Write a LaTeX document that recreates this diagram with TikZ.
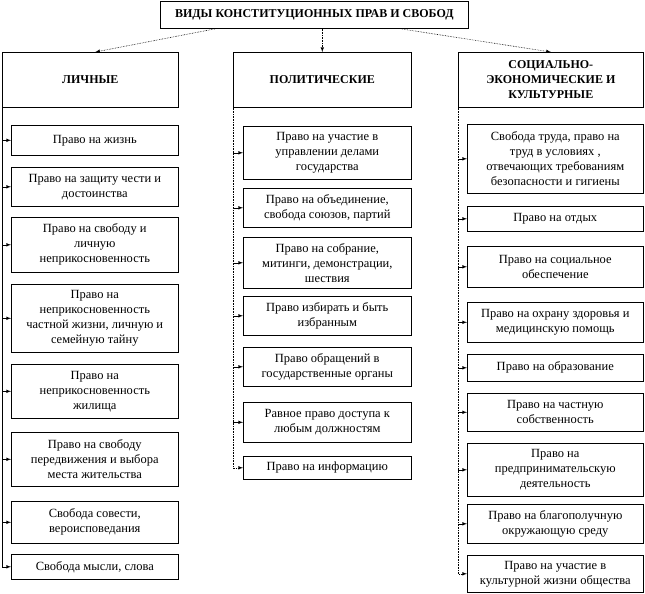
\documentclass[tikz,border=0pt]{standalone}
\usepackage{fontspec}
\setmainfont{Liberation Serif}
\usetikzlibrary{arrows}

\begin{document}
\begin{tikzpicture}[x=1pt, y=-1pt, >=latex,
        box/.style={draw, rectangle, line width=0.6pt, align=center, inner sep=1pt, anchor=north west, font=\fontsize{12.5}{15}\selectfont},
        head/.style={box, minimum height=55pt, font=\fontsize{12}{15}\selectfont\bfseries},
        lbox/.style={box, minimum width=167pt},
        pbox/.style={box, minimum width=168pt},
        rbox/.style={box, minimum width=176pt},
        link/.style={->, line width=0.6pt}]
    \useasboundingbox (0,0) rectangle (645,594);

    \node[head, minimum width=308pt, minimum height=27pt] (title) at (160,1) {ВИДЫ КОНСТИТУЦИОННЫХ ПРАВ И СВОБОД};
    \node[head, minimum width=176pt] (lich) at (2,52) {ЛИЧНЫЕ};
    \node[head, minimum width=178pt] (polit) at (233,52) {ПОЛИТИЧЕСКИЕ};
    \node[head, minimum width=185pt] (soc) at (458,52) {СОЦИАЛЬНО-\\ЭКОНОМИЧЕСКИЕ И\\КУЛЬТУРНЫЕ};

    % личные
    \node[lbox, minimum height=30pt] (l1) at (11,125) {Право на жизнь};
    \node[lbox, minimum height=39pt] (l2) at (11,167) {Право на защиту чести и\\достоинства};
    \node[lbox, minimum height=55pt] (l3) at (11,217) {Право на свободу и\\личную\\неприкосновенность};
    \node[lbox, minimum height=68pt] (l4) at (11,284) {Право на\\неприкосновенность\\частной жизни, личную и\\семейную тайну};
    \node[lbox, minimum height=54pt] (l5) at (11,364) {Право на\\неприкосновенность\\жилища};
    \node[lbox, minimum height=54pt] (l6) at (11,432) {Право на свободу\\передвижения и выбора\\места жительства};
    \node[lbox, minimum height=42pt] (l7) at (11,501) {Свобода совести,\\вероисповедания};
    \node[lbox, minimum height=25pt] (l8) at (11,554) {Свобода мысли, слова};

    % политические
    \node[pbox, minimum height=53pt] (p1) at (243,126) {Право на участие в\\управлении делами\\государства};
    \node[pbox, minimum height=39pt] (p2) at (243,188) {Право на объединение,\\свобода союзов, партий};
    \node[pbox, minimum height=51pt] (p3) at (243,237) {Право на собрание,\\митинги, демонстрации,\\шествия};
    \node[pbox, minimum height=39pt] (p4) at (243,296) {Право избирать и быть\\избранным};
    \node[pbox, minimum height=39pt] (p5) at (243,347) {Право обращений в\\государственные органы};
    \node[pbox, minimum height=40pt] (p6) at (243,402) {Равное право доступа к\\любым должностям};
    \node[pbox, minimum height=23pt] (p7) at (243,456) {Право на информацию};

    % социально-экономические и культурные
    \node[rbox, minimum height=69pt] (r1) at (467,124) {Свобода труда, право на\\труд в условиях ,\\отвечающих требованиям\\безопасности и гигиены};
    \node[rbox, minimum height=25pt] (r2) at (467,206) {Право на отдых};
    \node[rbox, minimum height=41pt] (r3) at (467,246) {Право на социальное\\обеспечение};
    \node[rbox, minimum height=40pt] (r4) at (467,302) {Право на охрану здоровья и\\медицинскую помощь};
    \node[rbox, minimum height=27pt] (r5) at (467,354) {Право на образование};
    \node[rbox, minimum height=38pt] (r6) at (467,393) {Право на частную\\собственность};
    \node[rbox, minimum height=53pt] (r7) at (467,443) {Право на\\предпринимательскую\\деятельность};
    \node[rbox, minimum height=39pt] (r8) at (467,504) {Право на благополучную\\окружающую среду};
    \node[rbox, minimum height=37pt] (r9) at (467,555) {Право на участие в\\культурной жизни общества};

    \draw[link, densely dotted] ([xshift=-98pt]title.south) -- ([xshift=5pt]lich.north);
    \draw[link, densely dotted] (polit.north |- title.south) -- (polit.north);
    \draw[link, densely dotted] ([xshift=85pt]title.south) -- (soc.north);

    \draw[link] (lich.south west) |- (l8.west);
    \draw[link] (lich.south west |- l1.west) -- (l1.west);
    \draw[link] (lich.south west |- l2.west) -- (l2.west);
    \draw[link] (lich.south west |- l3.west) -- (l3.west);
    \draw[link] (lich.south west |- l4.west) -- (l4.west);
    \draw[link] (lich.south west |- l5.west) -- (l5.west);
    \draw[link] (lich.south west |- l6.west) -- (l6.west);
    \draw[link] (lich.south west |- l7.west) -- (l7.west);

    \draw[link, densely dotted] (polit.south west) |- (p7.west);
    \draw[link] (polit.south west |- p1.west) -- (p1.west);
    \draw[link] (polit.south west |- p2.west) -- (p2.west);
    \draw[link] (polit.south west |- p3.west) -- (p3.west);
    \draw[link] (polit.south west |- p4.west) -- (p4.west);
    \draw[link] (polit.south west |- p5.west) -- (p5.west);
    \draw[link] (polit.south west |- p6.west) -- (p6.west);

    \draw[link, densely dotted] (soc.south west) |- (r9.west);
    \draw[link] (soc.south west |- r1.west) -- (r1.west);
    \draw[link] (soc.south west |- r2.west) -- (r2.west);
    \draw[link] (soc.south west |- r3.west) -- (r3.west);
    \draw[link] (soc.south west |- r4.west) -- (r4.west);
    \draw[link] (soc.south west |- r5.west) -- (r5.west);
    \draw[link] (soc.south west |- r6.west) -- (r6.west);
    \draw[link] (soc.south west |- r7.west) -- (r7.west);
    \draw[link] (soc.south west |- r8.west) -- (r8.west);
\end{tikzpicture}
\end{document}
